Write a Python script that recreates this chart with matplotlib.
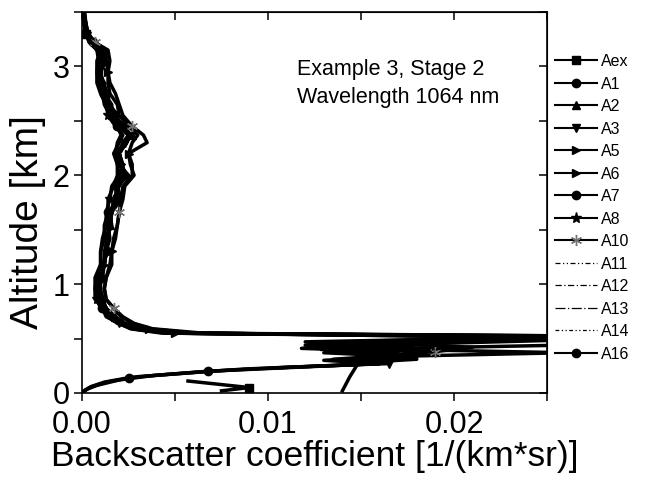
import numpy as np
import matplotlib
matplotlib.use("Agg")
import matplotlib.pyplot as plt

plt.rcParams['font.family'] = ['Liberation Sans', 'DejaVu Sans']

# altitude grid (km) shared by the upper part of every profile
alt_upper = [3.50, 3.40, 3.30, 3.22, 3.15, 3.05, 2.95, 2.85, 2.75, 2.65, 2.55, 2.45,
             2.37, 2.30, 2.20, 2.10, 2.00, 1.90, 1.78, 1.66, 1.54, 1.42, 1.30, 1.18,
             1.06, 0.96, 0.86, 0.78, 0.70, 0.64, 0.59, 0.55]

# backscatter values in 1e-3 1/(km*sr)
aex_up = [0.1, 0.1, 0.2, 0.4, 0.9, 1.2, 0.9, 1.0, 1.2, 1.6, 1.6, 2.0, 2.5, 2.4, 1.9, 2.1, 2.4, 1.8, 1.9, 1.5, 1.6, 1.3, 1.4, 1.1, 1.1, 0.8, 1.0, 1.2, 1.7, 2.1, 3.2, 5.5]
a1_up = [0.1, 0.2, 0.3, 0.6, 1.0, 0.8, 0.8, 0.9, 1.1, 1.2, 1.5, 1.9, 2.1, 1.9, 1.8, 1.9, 1.9, 1.7, 1.4, 1.4, 1.2, 1.2, 1.0, 1.0, 0.7, 0.7, 0.7, 1.1, 1.3, 2.0, 2.6, 4.3]
a2_up = [0.05, 0.15, 0.25, 0.5, 1.0, 1.3, 1.0, 1.1, 1.2, 1.5, 1.9, 2.0, 2.7, 2.2, 2.0, 2.0, 2.5, 1.9, 1.8, 1.6, 1.5, 1.4, 1.2, 1.2, 1.0, 0.9, 1.1, 1.3, 1.8, 2.3, 3.4, 6.0]
a3_up = [0.1, 0.1, 0.3, 0.5, 0.8, 1.1, 1.0, 0.9, 1.3, 1.5, 1.7, 2.3, 2.6, 2.3, 1.8, 2.2, 2.1, 1.9, 1.8, 1.5, 1.5, 1.3, 1.3, 1.2, 1.0, 0.8, 1.0, 1.2, 1.6, 2.0, 2.9, 4.8]
a5_up = [0.15, 0.2, 0.3, 0.7, 1.3, 1.3, 1.4, 1.4, 1.5, 1.9, 2.0, 2.5, 3.0, 2.7, 2.5, 2.7, 2.7, 2.2, 2.1, 2.0, 1.9, 1.7, 1.6, 1.5, 1.3, 1.2, 1.3, 1.7, 2.1, 2.7, 3.6, 6.0]
a6_up = [0.1, 0.2, 0.25, 0.4, 1.1, 1.2, 1.0, 1.1, 1.4, 1.4, 1.7, 2.1, 2.5, 2.2, 2.0, 2.1, 2.3, 2.0, 1.7, 1.6, 1.4, 1.5, 1.3, 1.2, 1.1, 0.9, 1.0, 1.3, 1.6, 2.3, 3.0, 5.0]
a7_up = [0.1, 0.1, 0.25, 0.6, 1.0, 1.1, 0.9, 1.2, 1.3, 1.5, 1.8, 2.0, 2.6, 2.4, 2.0, 2.2, 2.2, 1.9, 2.1, 1.6, 1.5, 1.4, 1.3, 1.2, 1.0, 1.0, 1.1, 1.3, 1.5, 2.2, 3.0, 4.9]
a8_up = [0.05, 0.1, 0.2, 0.4, 0.8, 0.9, 0.8, 0.8, 1.0, 1.3, 1.4, 1.8, 2.2, 2.0, 1.7, 1.9, 2.0, 1.6, 1.5, 1.3, 1.3, 1.1, 1.0, 1.0, 0.8, 0.7, 0.8, 1.0, 1.4, 1.9, 2.7, 4.5]
a10_up = [0.1, 0.2, 0.35, 0.7, 1.4, 1.5, 1.4, 1.5, 1.8, 2.0, 2.2, 2.7, 3.3, 3.5, 2.5, 2.6, 2.8, 2.3, 2.2, 2.0, 1.9, 1.8, 1.6, 1.6, 1.3, 1.2, 1.3, 1.7, 2.2, 2.8, 3.8, 6.5]
a11_up = [0.1, 0.15, 0.25, 0.5, 1.0, 1.1, 1.0, 1.1, 1.4, 1.6, 1.8, 2.2, 2.7, 2.4, 2.1, 2.2, 2.3, 2.0, 1.8, 1.7, 1.5, 1.5, 1.3, 1.2, 1.0, 0.9, 1.0, 1.3, 1.7, 2.3, 3.1, 5.0]
a12_up = [0.1, 0.1, 0.2, 0.5, 0.9, 1.0, 1.0, 1.0, 1.3, 1.4, 1.7, 2.1, 2.5, 2.2, 2.0, 2.1, 2.2, 1.9, 1.7, 1.6, 1.4, 1.4, 1.2, 1.1, 1.0, 0.9, 0.9, 1.2, 1.6, 2.1, 2.9, 4.8]
a13_up = [0.1, 0.15, 0.3, 0.5, 1.0, 1.2, 1.1, 1.1, 1.3, 1.5, 1.8, 2.1, 2.6, 2.3, 2.1, 2.2, 2.4, 1.9, 1.8, 1.6, 1.5, 1.4, 1.3, 1.2, 1.0, 0.9, 1.0, 1.3, 1.6, 2.2, 3.0, 5.1]
a14_up = [0.1, 0.15, 0.25, 0.45, 1.0, 1.1, 1.0, 1.1, 1.3, 1.5, 1.7, 2.1, 2.6, 2.3, 2.0, 2.2, 2.3, 1.9, 1.8, 1.6, 1.5, 1.4, 1.3, 1.2, 1.0, 0.9, 1.0, 1.3, 1.6, 2.2, 3.0, 5.0]
a16_up = [0.1, 0.15, 0.2, 0.5, 1.0, 1.0, 1.0, 1.1, 1.2, 1.5, 1.6, 2.0, 2.5, 2.3, 1.9, 2.1, 2.2, 1.8, 1.9, 1.6, 1.5, 1.3, 1.3, 1.2, 0.9, 0.9, 1.0, 1.2, 1.5, 2.0, 2.8, 4.7]

# lower parts (below the inversion), own altitudes per profile; nan = data gap
aex_lo_alt = [0.51, 0.47, 0.43, 0.39, 0.34, 0.30, 0.27, 0.23, 0.20, 0.11, 0.05, 0.02]
aex_lo = [32, 18, 13, 16, 17.5, 15, 16, 10.3, np.nan, 5.7, 9.0, 7.5]
a1_lo_alt = [0.52, 0.48, 0.44, 0.40, 0.35, 0.31, 0.27, 0.25, 0.23, 0.20, 0.17, 0.14, 0.10, 0.06, 0.02, 0.0]
a1_lo = [28, 16, 12, 14.5, 17, 13.5, 16, 13, 10.3, 6.8, 4.5, 2.5, 1.2, 0.5, 0.1, 0.0]
a2_lo_alt = [0.52, 0.46, 0.41, 0.38, 0.33, 0.28, 0.26, 0.15, 0.02]
a2_lo = [30, 15, 11.8, 17, 15.5, 15.5, 14.8, 14.4, 14.0]
a3_lo_alt = [0.51, 0.46, 0.41, 0.36, 0.31, 0.27, 0.24, 0.22, 0.19, 0.15, 0.10, 0.05, 0.0]
a3_lo = [26, 19, 16, 18.5, 15, 16.5, 11.5, 8.7, 6.2, 3.0, 1.3, 0.4, 0.0]
a5_lo_alt = [0.51, 0.45, 0.40, 0.35, 0.31, 0.28]
a5_lo = [31, 18, 13, 16, 18, 15]
a6_lo_alt = [0.51, 0.44, 0.40, 0.35, 0.30]
a6_lo = [29, 26, 14, 17, 16]
a7_lo_alt = [0.52, 0.47, 0.42, 0.37, 0.33, 0.29]
a7_lo = [27, 12, 15, 13, 18, 14]
a8_lo_alt = [0.51, 0.46, 0.41, 0.37, 0.33, 0.29]
a8_lo = [30, 17, 14, 26, 15, 16]
a10_lo_alt = [0.51, 0.46, 0.42, 0.38, 0.33, 0.29]
a10_lo = [24, 16, 21, 19, 15, 14]
a11_lo_alt = [0.51, 0.46, 0.42, 0.38, 0.33, 0.29]
a11_lo = [22, 14, 20.5, 18, 16, 14.5]
a12_lo_alt = [0.51, 0.47, 0.43, 0.39, 0.34, 0.30]
a12_lo = [21, 13, 19, 17, 15, 15.5]
a13_lo_alt = [0.52, 0.47, 0.42, 0.37, 0.33, 0.29]
a13_lo = [25, 15, 20, 16, 17.5, 14]
a14_lo_alt = [0.51, 0.46, 0.41, 0.37, 0.32, 0.28]
a14_lo = [23, 16, 18.5, 19, 14.5, 15]
a16_lo_alt = [0.52, 0.47, 0.43, 0.38, 0.34, 0.30, 0.27, 0.24, 0.20, 0.16, 0.12, 0.07, 0.03, 0.0]
a16_lo = [30, 14, 17, 15, 17, 13, 16, 12, 6.8, 3.8, 2.0, 0.8, 0.2, 0.0]

names = ['Aex', 'A1', 'A2', 'A3', 'A5', 'A6', 'A7', 'A8', 'A10', 'A11', 'A12', 'A13', 'A14', 'A16']

asterisk = (6, 2, 0)
series = [
    (aex_up, aex_lo_alt, aex_lo, 's', '-'),
    (a1_up, a1_lo_alt, a1_lo, 'o', '-'),
    (a2_up, a2_lo_alt, a2_lo, '^', '-'),
    (a3_up, a3_lo_alt, a3_lo, 'v', '-'),
    (a5_up, a5_lo_alt, a5_lo, '>', '-'),
    (a6_up, a6_lo_alt, a6_lo, '>', '-'),
    (a7_up, a7_lo_alt, a7_lo, 'o', '-'),
    (a8_up, a8_lo_alt, a8_lo, '*', '-'),
    (a10_up, a10_lo_alt, a10_lo, asterisk, '-'),
    (a11_up, a11_lo_alt, a11_lo, None, (0, (4, 2, 1, 2, 1, 2))),
    (a12_up, a12_lo_alt, a12_lo, None, (0, (5, 2, 1, 2))),
    (a13_up, a13_lo_alt, a13_lo, None, (0, (8, 2, 1, 2))),
    (a14_up, a14_lo_alt, a14_lo, None, (0, (3, 2, 1, 2, 1, 2))),
    (a16_up, a16_lo_alt, a16_lo, 'o', '-'),
]

fig = plt.figure(figsize=(6.51, 4.78), dpi=100)
ax = fig.add_axes([82 / 651, 1 - 393 / 478, (547 - 82) / 651, (393 - 12) / 478])

for i, (name, (up, lo_alt, lo, mk, ls)) in enumerate(zip(names, series)):
    x = np.array(up + lo, dtype=float) * 1e-3
    y = np.array(alt_upper + lo_alt)
    if mk is None:
        ax.plot(x, y, color='black', lw=0.9, ls=ls, label=name)
    else:
        mfc = '0.45' if mk == asterisk else 'black'
        ms = 8 if mk in ('*', asterisk) else 6
        ax.plot(x, y, color='black', lw=2.5, ls=ls, marker=mk, ms=ms,
                mfc=mfc, mec=mfc, markevery=(i % 7 + 2, 8), label=name)

ax.set_xlim(0, 0.025)
ax.set_ylim(0, 3.5)
ax.set_xticks([0, 0.01, 0.02])
ax.set_xticklabels(['0.00', '0.01', '0.02'])
ax.set_xticks([0.005, 0.015, 0.025], minor=True)
ax.set_yticks([0, 1, 2, 3])
ax.set_yticks([0.5, 1.5, 2.5, 3.5], minor=True)
ax.tick_params(which='both', direction='out', length=6, width=1.1, labelsize=22)
ax.tick_params(axis='x', pad=6)
ax.tick_params(axis='y', pad=3)
for sp in ax.spines.values():
    sp.set_linewidth(1.2)

# inward ticks on top and right
top = ax.secondary_xaxis('top')
top.set_xticks([0, 0.005, 0.01, 0.015, 0.02, 0.025])
top.tick_params(direction='in', length=6, width=1.1, labeltop=False)
right = ax.secondary_yaxis('right')
right.set_yticks(np.arange(0, 3.6, 0.5))
right.tick_params(direction='in', length=6, width=1.1, labelright=False)

ax.set_xlabel('Backscatter coefficient [1/(km*sr)]', fontsize=25.5)
ax.xaxis.set_label_coords(0.5, -(440 - 393) / 381)
ax.set_ylabel('Altitude [km]', fontsize=28)
ax.yaxis.set_label_coords(-(82 - 46) / 465, (393 - 222) / 381)

fig.text(297 / 651, 1 - 70 / 478, 'Example 3, Stage 2', fontsize=15.5, va='center')
fig.text(297 / 651, 1 - 97 / 478, 'Wavelength 1064 nm', fontsize=15.5, va='center')

leg = ax.legend(loc='upper left', bbox_to_anchor=(555 / 651, 1 - 54 / 478),
                bbox_transform=fig.transFigure, frameon=False, fontsize=11.5,
                handlelength=2.6, handletextpad=0.25, labelspacing=0.47,
                borderpad=0, borderaxespad=0)
for ln in leg.get_lines():
    if ln.get_linestyle() == '-':
        ln.set_linewidth(1.5)

fig.savefig('out.png', dpi=100)
